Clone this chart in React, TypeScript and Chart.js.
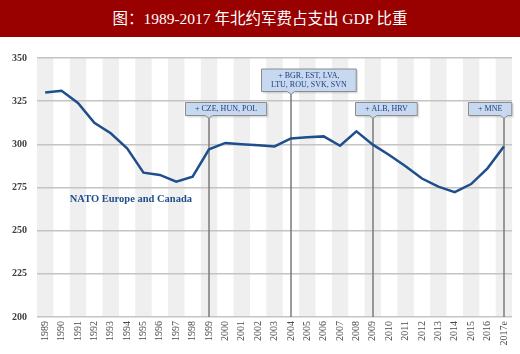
import React, { useEffect, useRef } from "react";
import { Chart, registerables } from "chart.js";

Chart.register(...registerables);

// ---- Data ----
const categories = [
  "1989", "1990", "1991", "1992", "1993", "1994", "1995", "1996", "1997", "1998",
  "1999", "2000", "2001", "2002", "2003", "2004", "2005", "2006", "2007", "2008",
  "2009", "2010", "2011", "2012", "2013", "2014", "2015", "2016", "2017e",
];
const spending = [
  330, 331, 324, 312.5, 306.4, 297.7, 283.6, 282.3, 278.4, 281.3,
  297.1, 300.8, 300.1, 299.4, 298.8, 303.4, 304.1, 304.6, 299.2, 307.5,
  299.8, 293.8, 287.3, 280.2, 275.5, 272.3, 277.0, 286.1, 298.8,
];
const yTicks = [200, 225, 250, 275, 300, 325, 350];
const seriesLabel = "NATO Europe and Canada";
const titleText = "图：1989-2017 年北约军费占支出 GDP 比重";
const accessionYears = ["1999", "2004", "2009", "2017e"];
const accessionLabels = [
  ["+ CZE, HUN, POL"],
  ["+ BGR, EST, LVA,", "LTU, ROU, SVK, SVN"],
  ["+ ALB, HRV"],
  ["+ MNE"],
];

// ---- Annotation placement (styling / layout only) ----
const boxBottomValue = [316.5, 330.4, 316.5, 316.5];
const boxCenterShift = [1.07, 1.1, 0.82, -0.85]; // in category widths
const labelPos = { index: 1.5, value: 268.4 };

const serif = '"Liberation Serif", "DejaVu Serif", serif';

const decorPlugin = {
  id: "decor",
  beforeDraw(chart: any) {
    const { ctx, chartArea, scales } = chart;
    const x = scales.x;
    const step = x.getPixelForValue(1) - x.getPixelForValue(0);
    ctx.save();
    ctx.fillStyle = "#efefef";
    for (let i = 0; i < categories.length; i += 2) {
      const c = x.getPixelForValue(i);
      const l = Math.max(chartArea.left, c - step / 2);
      const r = Math.min(chartArea.right, c + step / 2);
      ctx.fillRect(l, chartArea.top, r - l, chartArea.bottom - chartArea.top);
    }
    ctx.restore();
  },
  beforeDatasetsDraw(chart: any) {
    const { ctx, chartArea, scales } = chart;
    ctx.save();
    ctx.strokeStyle = "#7a7a7a";
    ctx.lineWidth = 1.5;
    accessionYears.forEach((yr, k) => {
      const px = Math.round(scales.x.getPixelForValue(categories.indexOf(yr)));
      const top = scales.y.getPixelForValue(boxBottomValue[k]);
      ctx.beginPath();
      ctx.moveTo(px, top);
      ctx.lineTo(px, chartArea.bottom);
      ctx.stroke();
    });
    ctx.restore();
  },
  afterDatasetsDraw(chart: any) {
    const { ctx, scales } = chart;
    const x = scales.x;
    const y = scales.y;
    const step = x.getPixelForValue(1) - x.getPixelForValue(0);
    ctx.save();
    ctx.font = `8px ${serif}`;
    accessionYears.forEach((yr, k) => {
      const idx = categories.indexOf(yr);
      const lx = Math.round(x.getPixelForValue(idx));
      const lines = accessionLabels[k];
      const w = Math.max(...lines.map((s) => ctx.measureText(s).width)) + 20;
      const lh = 9.5;
      const h = lines.length * lh + 4.5;
      const bottom = Math.round(y.getPixelForValue(boxBottomValue[k]));
      const cx = lx + boxCenterShift[k] * step;
      const left = Math.round(cx - w / 2);
      const top = bottom - h;
      // shadow
      ctx.fillStyle = "rgba(0,0,0,0.12)";
      ctx.fillRect(left + 1.5, top + 1.5, w, h);
      ctx.fillStyle = "#c6d9f1";
      ctx.strokeStyle = "#8c8c8c";
      ctx.lineWidth = 1;
      ctx.beginPath();
      ctx.moveTo(left + 0.5, top + 0.5);
      ctx.lineTo(left + w - 0.5, top + 0.5);
      ctx.lineTo(left + w - 0.5, bottom - 0.5);
      ctx.lineTo(lx + 3.5, bottom - 0.5);
      ctx.lineTo(lx, bottom + 2.5);
      ctx.lineTo(lx - 3.5, bottom - 0.5);
      ctx.lineTo(left + 0.5, bottom - 0.5);
      ctx.closePath();
      ctx.fill();
      ctx.stroke();
      ctx.fillStyle = "#1f3d7a";
      ctx.textAlign = "center";
      ctx.textBaseline = "middle";
      lines.forEach((s, j) => {
        ctx.fillText(s, left + w / 2, top + 2.5 + lh * (j + 0.5));
      });
    });
    // series label
    ctx.font = `bold 10.5px ${serif}`;
    ctx.fillStyle = "#1f4e8c";
    ctx.textAlign = "left";
    ctx.textBaseline = "middle";
    const sx = x.getPixelForValue(0) + labelPos.index * step;
    ctx.fillText(seriesLabel, sx, y.getPixelForValue(labelPos.value));
    ctx.restore();
  },
};

export default function App() {
  const ref = useRef<HTMLCanvasElement | null>(null);
  useEffect(() => {
    if (!ref.current) return;
    const chart = new Chart(ref.current, {
      type: "line",
      data: {
        labels: categories,
        datasets: [
          {
            label: seriesLabel,
            data: spending,
            borderColor: "#1f4e8c",
            borderWidth: 2.5,
            pointRadius: 0,
            tension: 0,
            fill: false,
          },
        ],
      },
      options: {
        responsive: false,
        animation: false,
        devicePixelRatio: 1,
        layout: { padding: { top: 21, right: 7, left: 0, bottom: 0 } },
        plugins: {
          legend: { display: false },
          tooltip: { enabled: false },
          title: { display: false },
        },
        scales: {
          x: {
            offset: true,
            grid: { display: false, drawTicks: false },
            border: { display: false },
            ticks: {
              minRotation: 90,
              maxRotation: 90,
              autoSkip: false,
              padding: 4,
              color: "#4a4a4a",
              font: { family: serif, size: 10 },
            },
            afterFit: (s: any) => {
              s.height = 37;
            },
          },
          y: {
            min: 200,
            max: 350,
            afterBuildTicks: (s: any) => {
              s.ticks = yTicks.map((v) => ({ value: v }));
            },
            grid: { color: "#c4c4c4", lineWidth: 1.5, drawTicks: false },
            border: { display: false },
            ticks: {
              padding: 10,
              color: "#404040",
              font: { family: serif, size: 10, weight: "bold" },
            },
            afterFit: (s: any) => {
              s.width = 37;
            },
          },
        },
      },
      plugins: [decorPlugin],
    });
    return () => chart.destroy();
  }, []);

  return (
    <div
      style={{
        position: "absolute",
        left: 0,
        top: 0,
        width: 520,
        height: 354,
        background: "#ffffff",
        overflow: "hidden",
      }}
    >
      <div
        style={{
          position: "absolute",
          left: 0,
          top: 0,
          width: 520,
          height: 37,
          background: "#990000",
          color: "#ffffff",
          fontFamily: '"Liberation Serif", "Noto Sans CJK SC", serif',
          fontSize: 15.5,
          lineHeight: "37px",
          textAlign: "center",
          whiteSpace: "nowrap",
        }}
      >
        {titleText}
      </div>
      <canvas
        ref={ref}
        width={520}
        height={317}
        style={{ position: "absolute", left: 0, top: 37, width: 520, height: 317 }}
      />
    </div>
  );
}
